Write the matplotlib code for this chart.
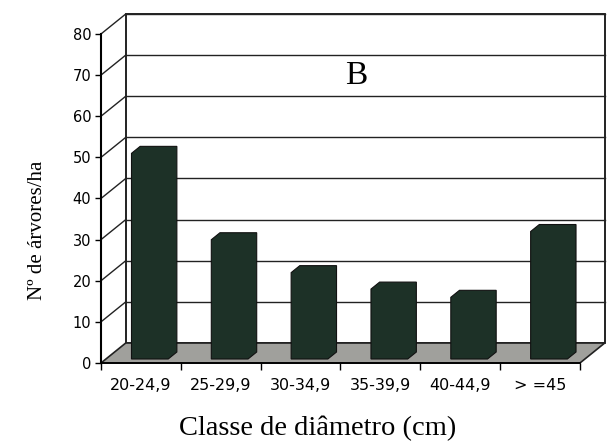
import matplotlib.pyplot as plt
from matplotlib.patches import Polygon

# diameter classes and tree density
classes = ['20-24,9', '25-29,9', '30-34,9', '35-39,9', '40-44,9', '> =45']
arvores_ha = [50, 29, 21, 17, 15, 31]
y_ticks = [0, 10, 20, 30, 40, 50, 60, 70, 80]

bar_color = '#1d3127'
floor_color = '#a0a09c'
ymax = 80
n = len(classes)

# oblique offset of the back wall, in data units
DX = 0.31
DY = 4.86
# bar front/back depth as fraction of the floor depth, width and nudge
f0, f1 = 0.2, 0.55
bw = 0.46
shift = 0.05

fig = plt.figure(figsize=(6.08, 4.43), dpi=100)
ax = fig.add_axes([0.1661, 0.1806, 0.7878, 0.7427])
ax.set_xlim(0, n)
ax.set_ylim(0, ymax)
ax.patch.set_visible(False)

# back wall
wall = Polygon([(DX, DY), (n + DX, DY), (n + DX, ymax + DY), (DX, ymax + DY)],
               closed=True, facecolor='white', edgecolor='#111111', lw=1.3,
               clip_on=False, zorder=1)
ax.add_patch(wall)

# gridlines on the back wall + diagonals on the side wall
for v in y_ticks[1:]:
    ax.plot([DX, n + DX], [v + DY, v + DY], color='#222222', lw=1.0,
            clip_on=False, zorder=2)
    ax.plot([0, DX], [v, v + DY], color='#222222', lw=1.0,
            clip_on=False, zorder=2)

# floor
floor = Polygon([(0, 0), (n, 0), (n + DX, DY), (DX, DY)], closed=True,
                facecolor=floor_color, edgecolor='#222222', lw=1.2,
                clip_on=False, zorder=3)
ax.add_patch(floor)

# 3d-looking columns
for i, val in enumerate(arvores_ha):
    xl = i + 0.5 - bw / 2 + f0 * DX + shift
    xr = xl + bw
    y0 = f0 * DY
    d = (f1 - f0) * DX
    dd = (f1 - f0) * DY
    top = val + y0
    pts = [(xl, y0), (xl, top), (xl + d, top + dd), (xr + d, top + dd),
           (xr + d, y0 + dd), (xr, y0)]
    ax.add_patch(Polygon(pts, closed=True, facecolor=bar_color,
                         edgecolor='#111111', lw=0.8, clip_on=False, zorder=4))

for s in ['top', 'right']:
    ax.spines[s].set_visible(False)
ax.spines['left'].set_linewidth(1.5)
ax.spines['bottom'].set_linewidth(1.3)
ax.spines['left'].set_zorder(5)
ax.spines['bottom'].set_zorder(5)

ax.set_yticks(y_ticks)
ax.tick_params(axis='y', length=4, width=1, pad=3, labelsize=10.5)
ax.set_xticks(range(n + 1))
ax.set_xticklabels([])
ax.set_xticks([i + 0.5 for i in range(n)], minor=True)
ax.set_xticklabels(classes, minor=True)
ax.tick_params(axis='x', which='major', length=5, width=1, direction='out')
ax.tick_params(axis='x', which='minor', length=0, pad=11, labelsize=11.5)

serif = ['Liberation Serif', 'DejaVu Serif']
fig.text(0.5855, 0.828, 'B', fontsize=24, family=serif, ha='center', va='center')
fig.text(0.062, 0.479, 'Nº de árvores/ha', fontsize=15, family=serif,
         rotation=90, ha='center', va='center')
fig.text(0.523, 0.033, 'Classe de diâmetro (cm)', fontsize=20.5, family=serif,
         ha='center', va='center')

fig.savefig('out.png', dpi=100)
